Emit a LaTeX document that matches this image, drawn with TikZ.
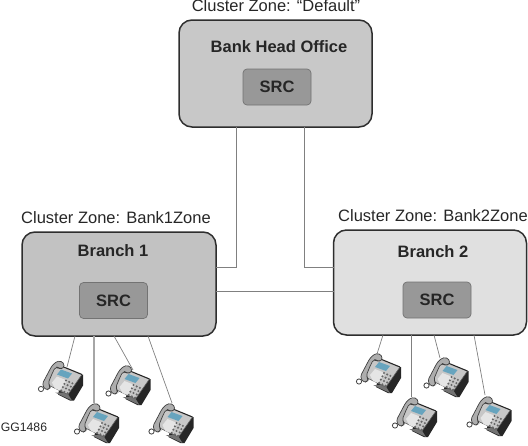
\documentclass[tikz,border=0pt]{standalone}
\usepackage{fontspec}
\setmainfont{Liberation Sans}
\definecolor{hd}{HTML}{C8C8C8}
\definecolor{bo}{HTML}{C2C2C2}
\definecolor{bt}{HTML}{E0E0E0}
\definecolor{sr}{HTML}{989898}
\definecolor{ln}{HTML}{808080}
\definecolor{ed}{HTML}{2E2E2E}
\tikzset{
  x=1pt,y=-1pt,
  zone/.style={draw=ed,line width=1.5pt,rounded corners=13pt,inner sep=0pt,outer sep=0pt,font=\fontsize{16.5}{18}\bfseries,text=black!85},
  srcbox/.style={draw=black!55,line width=.7pt,fill=sr,rounded corners=4pt,minimum width=68pt,minimum height=36pt,inner sep=0pt,outer sep=0pt,font=\fontsize{16.5}{18}\bfseries,text=black!85},
  title/.style={font=\fontsize{16.5}{18}\selectfont,text=black!85,inner sep=0pt},
  heading/.style={font=\fontsize{16.5}{18}\bfseries,text=black!85,inner sep=0pt},
  link/.style={draw=ln,line width=.9pt},
  phone/.pic={
    % base
    \fill[black!85] (2,-5) -- (22,-6) -- (22,5) -- (13,20) -- (9,20) -- (-3,14) -- cycle;
    \fill[black!55] (-6,12) -- (6,12) -- (11,20) -- cycle;
    % face
    \fill[black!22] (-16,3) -- (-3,-15) -- (21,-6) -- (7,14) -- cycle;
    \draw[black!65,line width=.6pt] (-16,3) -- (7,14) -- (21,-6);
    \draw[black!85,line width=1.1pt] (-1,-15) -- (21,-6);
    % display
    \fill[blue!30!cyan!40!gray!85] (0,-11) -- (11,-7) -- (7,-2) -- (-4,-6) -- cycle;
    % white card
    \fill[white!90!black] (-9,2) -- (-4,-4) -- (6,0) -- (-1,10) -- (-6,8) -- cycle;
    % keypad
    \foreach \i in {0,1,2}{\foreach \j in {0,1,2,3}{
      \fill[black!60] ({5+3.2*\i-1.6*\j},{0+1.4*\i+3.3*\j}) circle[radius=1.15];}}
    % handset
    \fill[black!32,draw=black!75,line width=.7pt,rounded corners=3pt,even odd rule]
      (-19,4) -- (-9,-15) -- (-3,-20) -- (3,-18) -- (3,-12) -- (-2,-12) -- (-5,-14) -- (-8,-9) -- (-13,3) -- (-10,7) -- (-15,10) -- cycle;
    % cord
    \draw[black!75,fill=white,line width=.8pt] (-20,8.5) circle[radius=2.6];
  }
}
\begin{document}
\begin{tikzpicture}
\useasboundingbox (0,0) rectangle (528,445);
% zones
\node[zone,fill=hd,minimum width=193pt,minimum height=107pt] (head) at (275.5,73.5) {};
\node[zone,fill=bo,minimum width=194pt,minimum height=104pt] (bone) at (119,284) {};
\node[zone,fill=bt,minimum width=193pt,minimum height=105pt] (btwo) at (430,282.5) {};
\node[srcbox] (srch) at (277,87) {SRC};
\node[srcbox] (srco) at (113.5,300.5) {SRC};
\node[srcbox] (srct) at (437,300) {SRC};
% labels
\node[title] (tdef) at (276,6) {Cluster Zone: “Default”};
\node[title] (tone) at (116,218) {Cluster Zone: Bank1Zone};
\node[title] (ttwo) at (433,216) {Cluster Zone: Bank2Zone};
\node[heading] (nhead) at (279,47) {Bank Head Office};
\node[heading] (none) at (113,251) {Branch 1};
\node[heading] (ntwo) at (433,252) {Branch 2};
\node[font=\fontsize{12.2}{14}\selectfont,text=black!85,inner sep=0pt] (gg) at (24,427) {GG1486};
% connector ends
\coordinate (ha) at (236,127);
\coordinate (hb) at (304,127);
\coordinate (oa) at (216,267);
\coordinate (ob) at (216,291);
\coordinate (ta) at (333.5,267);
\coordinate (tb) at (333.5,291);
\coordinate (oa1) at (75,336);
\coordinate (oa2) at (94,336);
\coordinate (oa3) at (114,336);
\coordinate (oa4) at (148,336);
\coordinate (tb1) at (383,335);
\coordinate (tb2) at (411,335);
\coordinate (tb3) at (434,335);
\coordinate (tb4) at (474,335);
\coordinate (po1) at (67,367);
\coordinate (po2) at (94,403);
\coordinate (po3) at (133,370);
\coordinate (po4) at (172,403);
\coordinate (pt1) at (377,354);
\coordinate (pt2) at (411,397);
\coordinate (pt3) at (440,358);
\coordinate (pt4) at (485,395);
% connectors
\draw[link] (ha) |- (oa);
\draw[link] (hb) |- (ta);
\draw[link] (ob) -- (tb);
\draw[link,line width=.7pt] (oa1) -- (po1);
\draw[link,line width=1.1pt,draw=black!35] (oa2) -- (po2);
\draw[link,line width=.7pt] (oa3) -- (po3);
\draw[link,line width=.7pt] (oa4) -- (po4);
\draw[link,line width=.7pt] (tb1) -- (pt1);
\draw[link] (tb2) -- (pt2);
\draw[link,line width=.7pt] (tb3) -- (pt3);
\draw[link,line width=.7pt] (tb4) -- (pt4);
% phones
\pic at (61,380.5) {phone};
\pic at (97,423) {phone};
\pic at (128.5,385) {phone};
\pic at (171.5,423) {phone};
\pic at (379,373) {phone};
\pic at (446.5,377) {phone};
\pic at (415,417) {phone};
\pic at (489.5,416) {phone};
\end{tikzpicture}
\end{document}
